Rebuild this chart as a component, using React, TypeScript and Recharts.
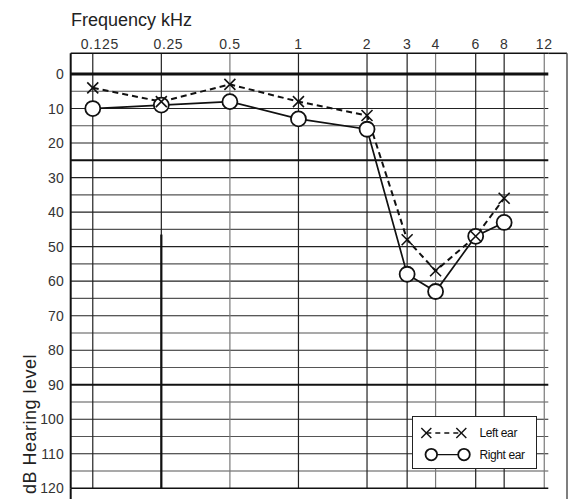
import React from 'react';
import {
  ComposedChart,
  Line,
  XAxis,
  YAxis,
  ReferenceLine,
  Legend,
  Customized,
} from 'recharts';

// ---------- data ----------
const frequencies = [0.125, 0.25, 0.5, 1, 2, 3, 4, 6, 8];
const leftEar = [4, 8, 3, 8, 12, 48, 57, 47, 36];
const rightEar = [10, 9, 8, 13, 16, 58, 63, 47, 43];

const freqTicks = [0.125, 0.25, 0.5, 1, 2, 3, 4, 6, 8, 12];
const freqTickLabels = ['0.125', '0.25', '0.5', '1', '2', '3', '4', '6', '8', '12'];
const greyFreqs = [0.5, 4, 12];
const dbTicks = [0, 10, 20, 30, 40, 50, 60, 70, 80, 90, 100, 110, 120];
const dbGrid = [5, 10, 15, 20, 30, 35, 40, 45, 50, 55, 60, 65, 70, 75, 80, 85, 95, 100, 105, 110, 115];
const boldDb = [25, 90];

const data = frequencies.map((f, i) => ({ f, left: leftEar[i], right: rightEar[i] }));

// ---------- layout ----------
const W = 570;
const H = 499;
const PL = 70.7;
const PT = 53.3;
const PR = 548.3;
const PB = 488.3;
const FONT = '"Liberation Sans", Arial, Helvetica, sans-serif';
const INK = '#111';

const XTick = (props: any) => {
  const { x, payload } = props;
  const idx = freqTicks.indexOf(payload.value);
  const label = idx >= 0 ? freqTickLabels[idx] : String(payload.value);
  const dx = payload.value < 0.3 ? 7 : 0;
  return (
    <text
      x={x + dx}
      y={48.5}
      textAnchor="middle"
      fontSize={14}
      fontFamily={FONT}
      fill="#333"
      letterSpacing={0.6}
    >
      {label}
    </text>
  );
};

const XMark = (props: any) => {
  const { cx, cy } = props;
  if (cx == null || cy == null) return null;
  const s = 5.5;
  return (
    <g stroke={INK} strokeWidth={1.6}>
      <line x1={cx - s} y1={cy - s} x2={cx + s} y2={cy + s} />
      <line x1={cx - s} y1={cy + s} x2={cx + s} y2={cy - s} />
    </g>
  );
};

const OMark = (props: any) => {
  const { cx, cy } = props;
  if (cx == null || cy == null) return null;
  return <circle cx={cx} cy={cy} r={7.5} fill="#fff" stroke={INK} strokeWidth={1.8} />;
};

const Decorations = () => (
  <g>
    <text x={71} y={26} fontSize={18} fontFamily={FONT} fill="#222">
      Frequency kHz
    </text>
    <text
      x={0}
      y={0}
      transform={`translate(36, 424) rotate(-90)`}
      textAnchor="middle"
      fontSize={18}
      fontFamily={FONT}
      fill="#222"
      letterSpacing={0.5}
    >
      dB Hearing level
    </text>
    {/* outer frame pieces */}
    <line x1={PR} y1={PT} x2={567} y2={PT} stroke={INK} strokeWidth={1.5} />
    <line x1={567} y1={PT} x2={567} y2={H} stroke="#555" strokeWidth={1.5} />
    <line x1={PL} y1={PB} x2={PL} y2={H} stroke={INK} strokeWidth={2} />
  </g>
);

const LegendBox = (props: any) => {
  const payload: any[] = props.payload || [];
  const order = ['Left ear', 'Right ear'];
  const items = order.filter((n) => payload.some((p) => p.value === n));
  return (
    <div
      style={{
        width: 125,
        height: 53,
        boxSizing: 'border-box',
        border: '1px solid #222',
        background: '#fff',
        position: 'relative',
      }}
    >
      <svg width={125} height={53} style={{ position: 'absolute', left: 0, top: 0 }}>
        {items.map((name, i) => {
          const cy = i === 0 ? 16 : 37.6;
          if (name === 'Left ear') {
            const s = 5;
            return (
              <g key={name}>
                <line x1={13.3} y1={cy} x2={48.3} y2={cy} stroke={INK} strokeWidth={1.3} strokeDasharray="5 4" />
                {[13.3, 48.3].map((x) => (
                  <g key={x} stroke={INK} strokeWidth={1.4}>
                    <line x1={x - s} y1={cy - s} x2={x + s} y2={cy + s} />
                    <line x1={x - s} y1={cy + s} x2={x + s} y2={cy - s} />
                  </g>
                ))}
                <text x={66.5} y={cy + 4} fontSize={12} fontFamily={FONT} fill={INK} letterSpacing={-0.4}>
                  {name}
                </text>
              </g>
            );
          }
          return (
            <g key={name}>
              <line x1={18.3} y1={cy} x2={51} y2={cy} stroke={INK} strokeWidth={1.4} />
              {[18.3, 51].map((x) => (
                <circle key={x} cx={x} cy={cy} r={5.8} fill="#fff" stroke={INK} strokeWidth={1.8} />
              ))}
              <text x={66.5} y={cy + 4} fontSize={12} fontFamily={FONT} fill={INK} letterSpacing={-0.4}>
                {name}
              </text>
            </g>
          );
        })}
      </svg>
    </div>
  );
};

export default function App() {
  return (
    <div style={{ position: 'absolute', left: 0, top: 0, width: W, height: H, background: '#fff' }}>
      <ComposedChart
        width={W}
        height={H}
        data={data}
        margin={{ top: 0, right: W - PR, bottom: H - PB, left: 0 }}
      >
        <XAxis
          dataKey="f"
          type="number"
          scale="log"
          domain={[0.1, 12.5]}
          allowDataOverflow
          orientation="top"
          height={PT}
          ticks={freqTicks}
          interval={0}
          tick={<XTick />}
          tickLine={false}
          tickSize={0}
          axisLine={{ stroke: INK, strokeWidth: 1.5 }}
        />
        <YAxis
          type="number"
          reversed
          domain={[-6, 120]}
          allowDataOverflow
          ticks={dbTicks}
          interval={0}
          width={PL}
          tickLine={false}
          tickSize={0}
          tickMargin={7}
          tick={{ fontSize: 14, fill: '#333', fontFamily: FONT }}
          axisLine={{ stroke: INK, strokeWidth: 2 }}
        />
        {dbGrid.map((v) => (
          <ReferenceLine key={`h${v}`} y={v} stroke={v % 10 === 0 ? '#222' : '#555'} strokeWidth={1.1} />
        ))}
        {freqTicks.map((f) => (
          <ReferenceLine
            key={`v${f}`}
            x={f}
            stroke={greyFreqs.includes(f) ? '#7a7a7a' : '#222'}
            strokeWidth={1.2}
          />
        ))}
        {boldDb.map((v) => (
          <ReferenceLine key={`b${v}`} y={v} stroke={INK} strokeWidth={2} />
        ))}
        <ReferenceLine y={0} stroke={INK} strokeWidth={3.2} />
        <ReferenceLine y={120} stroke={INK} strokeWidth={1.5} />
        <ReferenceLine
          segment={[
            { x: 0.25, y: 46.5 },
            { x: 0.25, y: 120 },
          ]}
          stroke={INK}
          strokeWidth={2.2}
        />
        <Line
          name="Right ear"
          dataKey="right"
          type="linear"
          stroke={INK}
          strokeWidth={1.7}
          dot={<OMark />}
          activeDot={false}
          isAnimationActive={false}
        />
        <Line
          name="Left ear"
          dataKey="left"
          type="linear"
          stroke={INK}
          strokeWidth={2}
          strokeDasharray="6 4"
          dot={<XMark />}
          activeDot={false}
          isAnimationActive={false}
        />
        <Customized component={Decorations} />
        <Legend
          layout="vertical"
          align="center"
          verticalAlign="middle"
          content={<LegendBox />}
          wrapperStyle={{ position: 'absolute', left: 411.7, top: 415.7, width: 125, height: 53 }}
        />
      </ComposedChart>
    </div>
  );
}
